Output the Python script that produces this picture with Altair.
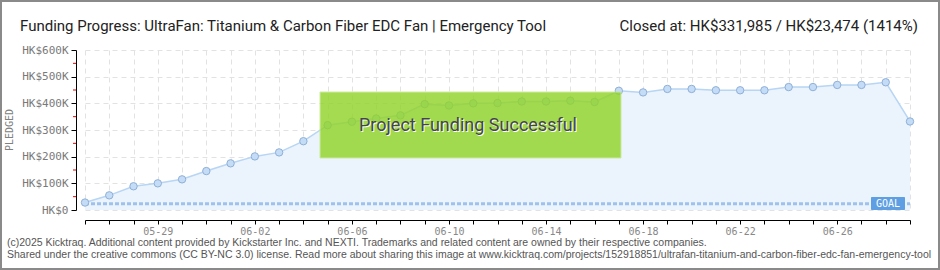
import json
import altair as alt
import pandas as pd

# ---- data ----
dates = ["05-26", "05-27", "05-28", "05-29", "05-30", "05-31",
         "06-01", "06-02", "06-03", "06-04", "06-05", "06-06", "06-07", "06-08",
         "06-09", "06-10", "06-11", "06-12", "06-13", "06-14", "06-15", "06-16",
         "06-17", "06-18", "06-19", "06-20", "06-21", "06-22", "06-23", "06-24",
         "06-25", "06-26", "06-27", "06-28", "06-29"]
pledged = [28000, 55000, 89000, 100000, 115000, 146000,
           175000, 201000, 216000, 258000, 318000, 331000, 343000, 355000,
           397000, 392000, 400000, 401000, 407000, 407000, 410000, 405000,
           447000, 441000, 454000, 454000, 449000, 449000, 449000, 461000,
           461000, 469000, 469000, 479000, 331985]
goal = 23474
tick_labels = ["05-29", "06-02", "06-06", "06-10", "06-14", "06-18", "06-22", "06-26"]
y_major = [0, 100000, 200000, 300000, 400000, 500000, 600000]
y_minor = [50000, 150000, 250000, 350000, 450000, 550000]

title_text = "Funding Progress: UltraFan: Titanium & Carbon Fiber EDC Fan | Emergency Tool"
closed_text = "Closed at:  HK$331,985 /  HK$23,474 (1414%)"
footer1 = ("(c)2025 Kicktraq. Additional content provided by Kickstarter Inc. and NEXTI. "
           "Trademarks and related content are owned by their respective companies.")
footer2 = ("Shared under the creative commons (CC BY-NC 3.0) license. Read more about sharing this image at "
           "www.kicktraq.com/projects/152918851/ultrafan-titanium-and-carbon-fiber-edc-fan-emergency-tool")

df = pd.DataFrame({"idx": list(range(len(dates))), "date": dates, "pledged": pledged})
minor_df = pd.DataFrame({"pledged": y_minor})
goal_df = pd.DataFrame({"pledged": [goal]})
one = pd.DataFrame({"k": [0]})

W, H = 825, 160
XDOM = [0, len(dates) - 1]
YDOM = [0, 600000]

label_expr_x = ("indexof(" + json.dumps(tick_labels) + ", " + json.dumps(dates) +
                "[datum.value]) >= 0 ? " + json.dumps(dates) + "[datum.value] : ''")

x_axis = alt.Axis(values=list(range(len(dates))), labelExpr=label_expr_x, offset=10,
                  domainColor="#000", domainWidth=1, tickColor="#000", tickSize=4,
                  labelFont="DejaVu Sans Mono", labelFontSize=10, labelColor="#888",
                  labelPadding=2, grid=True, gridColor="#e2e2e2", gridDash=[5, 4],
                  title=None, labelFlush=False, labelOverlap=False)
y_axis = alt.Axis(values=y_major,
                  labelExpr="datum.value == 0 ? 'HK$0' : 'HK$' + datum.value/1000 + 'K'",
                  offset=9, domainColor="#000", domainWidth=1, tickColor="#000", tickSize=5,
                  labelFont="DejaVu Sans Mono", labelFontSize=11, labelColor="#7a7a7a",
                  labelPadding=3, grid=True, gridColor="#e2e2e2", gridDash=[5, 4],
                  title=None, labelOverlap=False)

xs = alt.Scale(domain=XDOM, nice=False, zero=False)
ys = alt.Scale(domain=YDOM, nice=False)
X = alt.X("idx:Q", scale=xs, axis=x_axis)
Y = alt.Y("pledged:Q", scale=ys, axis=y_axis)

area = alt.Chart(df).mark_area(color="#ebf3fc").encode(x=X, y=Y)

goal_rule = alt.Chart(goal_df).mark_rule(color="#9fc2ec", strokeWidth=3, strokeDash=[4, 2]).encode(
    y=Y, x=alt.value(0), x2=alt.value(W))

line = alt.Chart(df).mark_line(color="#b7d5f4", strokeWidth=1.5).encode(x=X, y=Y)

points = alt.Chart(df).mark_point(shape="circle", filled=True, size=55, fill="#c4dcf6",
                                  stroke="#8fb0d8", strokeWidth=1, opacity=1).encode(x=X, y=Y)

minor = alt.Chart(minor_df).mark_rule(color="#e00000", strokeWidth=1).encode(
    y=Y, x=alt.value(-12), x2=alt.value(-9))

green = alt.Chart(one).mark_rect(fill="#92d42a", opacity=0.82, stroke="#c5e890",
                                 strokeWidth=1).encode(
    x=alt.value(235), x2=alt.value(536), y=alt.value(42), y2=alt.value(108))

succ_shadow = alt.Chart(one).mark_text(text="Project Funding Successful", font="Roboto",
                                       fontSize=18, color="#ffffff", align="center",
                                       baseline="middle").encode(
    x=alt.value(384), y=alt.value(77))
succ = alt.Chart(one).mark_text(text="Project Funding Successful", font="Roboto",
                                fontSize=18, color="#454545", align="center",
                                baseline="middle").encode(
    x=alt.value(383), y=alt.value(76))

goal_box = alt.Chart(one).mark_rect(fill="#5e9ee2", cornerRadius=1).encode(
    x=alt.value(786), x2=alt.value(820), y=alt.value(147), y2=alt.value(160))
goal_txt = alt.Chart(one).mark_text(text="GOAL", font="DejaVu Sans Mono", fontSize=10,
                                    color="#ffffff", align="center", baseline="middle").encode(
    x=alt.value(803), y=alt.value(154))

title = alt.Chart(one).mark_text(text=title_text, font="Roboto", fontSize=15,
                                 color="#222222", align="left", baseline="alphabetic").encode(
    x=alt.value(-65), y=alt.value(-19))
closed = alt.Chart(one).mark_text(text=closed_text, font="Roboto", fontSize=15,
                                  color="#222222", align="right", baseline="alphabetic").encode(
    x=alt.value(833), y=alt.value(-19))

pledged_lbl = alt.Chart(one).mark_text(text="PLEDGED", font="DejaVu Sans Mono", fontSize=10,
                                       color="#808080", angle=270, align="center",
                                       baseline="middle").encode(
    x=alt.value(-75), y=alt.value(80))

foot1 = alt.Chart(one).mark_text(text=footer1, font="Liberation Sans", fontSize=10.5,
                                 color="#555555", align="left", baseline="middle").encode(
    x=alt.value(-78), y=alt.value(193))
foot2 = alt.Chart(one).mark_text(text=footer2, font="Liberation Sans", fontSize=10.5,
                                 color="#555555", align="left", baseline="middle").encode(
    x=alt.value(-78), y=alt.value(205))

border = alt.Chart(one).mark_rect(fill=None, stroke="#8a8a8a", strokeWidth=2).encode(
    x=alt.value(-84), x2=alt.value(854), y=alt.value(-49), y2=alt.value(219))

chart = alt.layer(
    area, goal_rule, line, points, minor, green, succ_shadow, succ, goal_box, goal_txt,
    title, closed, pledged_lbl, foot1, foot2, border
).properties(
    width=W, height=H,
    padding={"left": 85, "top": 50, "right": 30, "bottom": 60},
    autosize=alt.AutoSizeParams(type="none"),
    background="#ffffff",
).configure_view(stroke=None)

chart.save("out.html", embed_options={"renderer": "svg", "actions": False})
